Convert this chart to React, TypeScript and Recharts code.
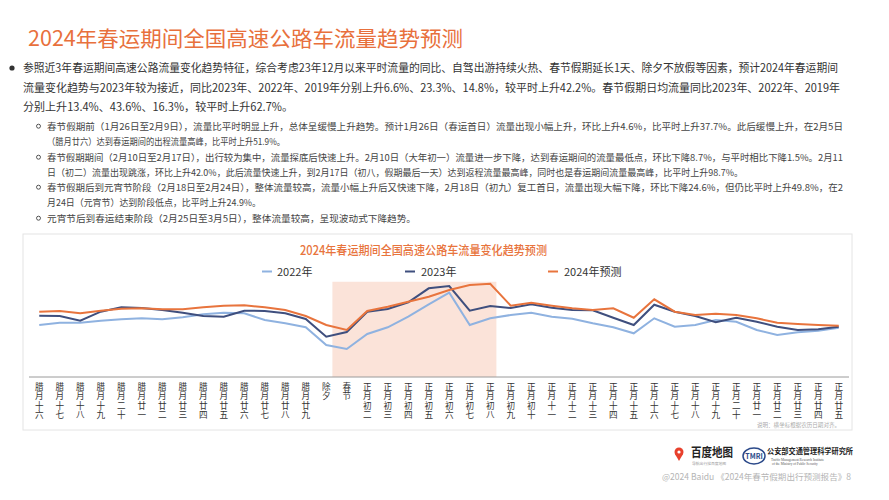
import React from "react";
import { LineChart, Line, XAxis, YAxis, ReferenceArea } from "recharts";

const categories = [
  "腊月十六", "腊月十七", "腊月十八", "腊月十九", "腊月二十", "腊月廿一", "腊月廿二", "腊月廿三",
  "腊月廿四", "腊月廿五", "腊月廿六", "腊月廿七", "腊月廿八", "腊月廿九", "除夕", "春节",
  "正月初二", "正月初三", "正月初四", "正月初五", "正月初六", "正月初七", "正月初八", "正月初九",
  "正月初十", "正月十一", "正月十二", "正月十三", "正月十四", "正月十五", "正月十六", "正月十七",
  "正月十八", "正月十九", "正月二十", "正月廿一", "正月廿二", "正月廿三", "正月廿四", "正月廿五",
];

const series2022 = [
  52, 54.3, 54.3, 56.3, 57.7, 58.7, 57.7, 59.7, 62.7, 64.3, 63.7, 57, 53.7, 49.7, 32, 28,
  43, 49.7, 60.3, 72.7, 84.3, 52, 58.7, 62, 64.3, 60.3, 58.3, 53.7, 49.7, 43.7, 58.7, 50.3,
  52, 57, 55.3, 47, 42, 44.7, 46.3, 49.3,
];
const series2023 = [
  61.3, 61, 56.3, 65.3, 69.7, 69, 67, 64.3, 61, 60.3, 66.3, 66, 63.7, 58, 40.3, 45,
  65.3, 68, 74.7, 88.7, 91, 66.3, 71, 69, 72.7, 69.3, 67, 66.7, 59.3, 52, 72.3, 65.3,
  61, 54.7, 59.3, 55.3, 50.3, 47, 47.7, 50.3,
];
const series2024 = [
  65.3, 66, 63.7, 66.3, 68.3, 68.7, 67.7, 67.7, 69.7, 71.3, 71.7, 69.7, 67, 61, 52, 47,
  66, 70.3, 75.3, 80.3, 87, 92, 93.3, 71.3, 74.3, 71.3, 68.7, 67, 68.7, 59.3, 77.7, 65.3,
  62, 63.3, 62, 58.7, 54.3, 53, 52, 51.3,
];

const seriesNames = ["2022年", "2023年", "2024年预测"];
const seriesColors = ["#8fb2e0", "#3f4f7e", "#e8743d"];

// holiday shading (春节 .. 正月初八), expressed in category-index units
const shadeFrom = 14.3;
const shadeTo = 22.3;
const shadeTop = 95.3;

const rows = categories.map((c, i) => ({
  i,
  label: c,
  y2022: series2022[i],
  y2023: series2023[i],
  y2024: series2024[i],
}));
const tickIdx = categories.map((_, i) => i);

const FONT = "'Noto Sans CJK SC', 'Noto Sans', sans-serif";

const mainLines = [
  { t: "参照近3年春运期间高速公路流量变化趋势特征，综合考虑23年12月以来平时流量的同比、自驾出游持续火热、春节假期延长1天、除夕不放假等因素，预计2024年春运期间", y: 72, w: 815 },
  { t: "流量变化趋势与2023年较为接近，同比2023年、2022年、2019年分别上升6.6%、23.3%、14.8%，较平时上升42.2%。春节假期日均流量同比2023年、2022年、2019年", y: 91.5, w: 817 },
  { t: "分别上升13.4%、43.6%、16.3%，较平时上升62.7%。", y: 111, w: 270 },
];

const subLines = [
  { t: "春节假期前（1月26日至2月9日），流量比平时明显上升，总体呈缓慢上升趋势。预计1月26日（春运首日）流量出现小幅上升，环比上升4.6%，比平时上升37.7%。此后缓慢上升，在2月5日", y: 129.5, w: 796, b: true },
  { t: "（腊月廿六）达到春运期间的出程流量高峰，比平时上升51.9%。", y: 144.5, w: 238, b: false },
  { t: "春节假期期间（2月10日至2月17日），出行较为集中，流量探底后快速上升。2月10日（大年初一）流量进一步下降，达到春运期间的流量最低点，环比下降8.7%，与平时相比下降1.5%。2月11", y: 160.5, w: 796, b: true },
  { t: "日（初二）流量出现跳涨，环比上升42.0%，此后流量快速上升，到2月17日（初八，假期最后一天）达到返程流量最高峰，同时也是春运期间流量最高峰，比平时上升98.7%。", y: 175.5, w: 696, b: false },
  { t: "春节假期后到元宵节阶段（2月18日至2月24日），整体流量较高，流量小幅上升后又快速下降，2月18日（初九）复工首日，流量出现大幅下降，环比下降24.6%，但仍比平时上升49.8%，在2", y: 190.5, w: 796, b: true },
  { t: "月24日（元宵节）达到阶段低点，比平时上升24.9%。", y: 205.5, w: 214, b: false },
  { t: "元宵节后到春运结束阶段（2月25日至3月5日），整体流量较高，呈现波动式下降趋势。", y: 221.5, w: 369, b: true },
];

const VTick = (props: any) => {
  const { x, y, payload } = props;
  const label = categories[payload.value] ?? "";
  return (
    <text
      x={x}
      y={y + 5}
      fontSize={8.6}
      fill="#333"
      fontFamily={FONT}
      writingMode="vertical-rl"
      style={{ textOrientation: "upright", letterSpacing: "1px" } as any}
    >
      {label}
    </text>
  );
};

export default function App() {
  const legendItems = [
    { x: 262, tx: 277 },
    { x: 405, tx: 421 },
    { x: 548, tx: 564 },
  ];
  return (
    <div
      style={{
        position: "fixed",
        left: 0,
        top: 0,
        width: 889,
        height: 500,
        background: "#fff",
        overflow: "hidden",
        fontFamily: FONT,
      }}
    >
      <svg width={889} height={500} style={{ position: "absolute", left: 0, top: 0 }}>
        <text x={28} y={46} fontSize={21} fill="#e8703c" fontFamily={FONT} textLength={435} lengthAdjust="spacingAndGlyphs">
          2024年春运期间全国高速公路车流量趋势预测
        </text>
        <circle cx={12} cy={68} r={2.6} fill="#333" />
        {mainLines.map((l, k) => (
          <text key={k} x={23} y={l.y} fontSize={11.2} fill="#333" fontFamily={FONT} textLength={l.w} lengthAdjust="spacingAndGlyphs">
            {l.t}
          </text>
        ))}
        {subLines.map((l, k) => (
          <g key={k}>
            {l.b && <circle cx={38.5} cy={l.y - 3.3} r={2} fill="none" stroke="#444" strokeWidth={0.9} />}
            <text x={47} y={l.y} fontSize={9.4} fill="#444" fontFamily={FONT} textLength={l.w} lengthAdjust="spacingAndGlyphs">
              {l.t}
            </text>
          </g>
        ))}
        <rect x={23} y={234} width={829} height={196} fill="none" stroke="#e4e4e4" strokeWidth={1} />
        <text x={423.5} y={255} textAnchor="middle" fontSize={12.5} fontWeight={500} fill="#e8743d" fontFamily={FONT} textLength={247} lengthAdjust="spacingAndGlyphs">
          2024年春运期间全国高速公路车流量变化趋势预测
        </text>
        {legendItems.map((it, k) => (
          <g key={k}>
            <line x1={it.x} x2={it.x + 10} y1={271.5} y2={271.5} stroke={seriesColors[k]} strokeWidth={2} />
            <text x={it.tx} y={275.5} fontSize={11} fill="#333" fontFamily={FONT}>
              {seriesNames[k]}
            </text>
          </g>
        ))}
        <text x={757} y={427} fontSize={5.5} fill="#aaa" fontFamily={FONT} textLength={83} lengthAdjust="spacingAndGlyphs">
          说明：横坐标根据农历日期对齐。
        </text>
        {/* footer logos */}
        <circle cx={679} cy={452} r={4.5} fill="#e8402c" />
        <path d="M675 454 L679 461 L683 454 Z" fill="#e8402c" />
        <circle cx={679} cy={452} r={1.6} fill="#fff" />
        <text x={691} y={457} fontSize={12.5} fontWeight={700} fill="#222" fontFamily={FONT} textLength={42} lengthAdjust="spacingAndGlyphs">
          百度地图
        </text>
        <text x={692} y={465} fontSize={3.8} fill="#999" fontFamily={FONT}>
          导航出行找百度地图
        </text>
        <ellipse cx={754} cy={456} rx={11} ry={8} fill="none" stroke="#2c4a8a" strokeWidth={1.5} />
        <text x={754} y={459} textAnchor="middle" fontSize={7} fontWeight={700} fill="#2c4a8a" fontFamily={FONT}>
          TMRI
        </text>
        <text x={767} y={454} fontSize={7.5} fontWeight={700} fill="#222" fontFamily={FONT} textLength={86} lengthAdjust="spacingAndGlyphs">
          公安部交通管理科学研究所
        </text>
        <text x={771} y={460.5} fontSize={3.4} fill="#555" fontFamily="'Liberation Serif', serif">
          Traffic Management Research Institute
        </text>
        <text x={772} y={465} fontSize={3.4} fill="#555" fontFamily="'Liberation Serif', serif">
          of the Ministry of Public Security
        </text>
        <text x={662} y={480} fontSize={8.5} fill="#b5b5b5" fontFamily={FONT} textLength={189} lengthAdjust="spacingAndGlyphs">
          @2024 Baidu 《2024年春节假期出行预测报告》8
        </text>
      </svg>
      <div style={{ position: "absolute", left: 0, top: 0 }}>
        <LineChart
          width={889}
          height={500}
          data={rows}
          margin={{ top: 277, right: 40, bottom: 78, left: 29 }}
        >
          <XAxis
            dataKey="i"
            type="number"
            domain={[-0.5, 39.5]}
            ticks={tickIdx}
            interval={0}
            height={45}
            tickLine={false}
            tickSize={0}
            tickMargin={0}
            axisLine={{ stroke: "#9a9a9a", strokeWidth: 1 }}
            tick={(p: any) => <VTick {...p} />}
            allowDataOverflow
          />
          <YAxis hide domain={[0, 100]} type="number" allowDataOverflow />
          <ReferenceArea
            x1={shadeFrom}
            x2={shadeTo}
            y1={0}
            y2={shadeTop}
            fill="#fbe3d9"
            fillOpacity={1}
            stroke="none"
          />
          <Line dataKey="y2022" name={seriesNames[0]} stroke={seriesColors[0]} strokeWidth={2} dot={false} isAnimationActive={false} />
          <Line dataKey="y2023" name={seriesNames[1]} stroke={seriesColors[1]} strokeWidth={2} dot={false} isAnimationActive={false} />
          <Line dataKey="y2024" name={seriesNames[2]} stroke={seriesColors[2]} strokeWidth={2} dot={false} isAnimationActive={false} />
        </LineChart>
      </div>
    </div>
  );
}
